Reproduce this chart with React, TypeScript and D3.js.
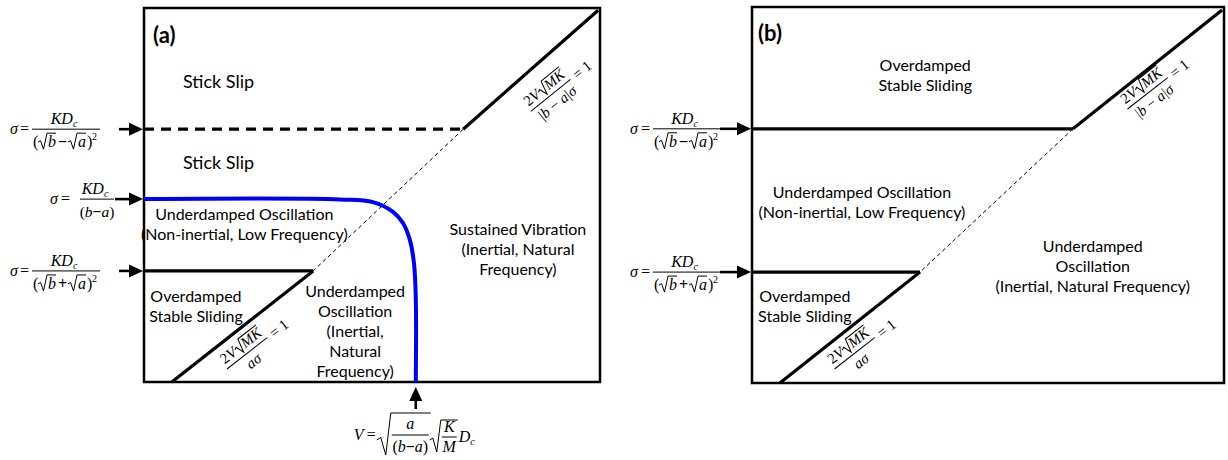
import React from "react";
import * as d3 from "d3";

// ---------- Data (schematic units: 0..100 in each panel's V–σ space) ----------
type P = [number, number];

// Panel (a) regime boundaries
const aStickSlipDashed: P[] = [[0, 67.6], [70, 67.6]];
const aUpperDiag: P[] = [[70, 67.6], [99.6, 99.4]];
const aThinDiag: P[] = [[70, 67.6], [37.1, 29.7]];
const aLowerStep: P[] = [[0, 29.7], [37.1, 29.7]];
const aLowerDiag: P[] = [[37.1, 29.7], [6.1, 0]];
const aBlueCurve: P[] = [
  [0, 48.9], [43.0, 48.8], [50.2, 48.1], [54.6, 45.5], [56.8, 42.5],
  [58.3, 38.0], [59.2, 31.8], [59.6, 22.7], [59.6, 0],
];
const aArrowLevels = [67.6, 48.9, 29.7];
const aBlueX = 59.6;

// Panel (b) regime boundaries
const bUpperStep: P[] = [[0, 67.6], [68, 67.6]];
const bUpperDiag: P[] = [[68, 67.6], [99.6, 99.2]];
const bThinDiag: P[] = [[68, 67.6], [35.6, 29.5]];
const bLowerStep: P[] = [[0, 29.5], [35.6, 29.5]];
const bLowerDiag: P[] = [[35.6, 29.5], [5.9, 0]];
const bArrowLevels = [67.6, 29.5];

// Region labels: first-line centre in panel units
const aStickLabels = [
  { lines: ["Stick Slip"], x: 8.55, y: 80.2, anchor: "start" },
  { lines: ["Stick Slip"], x: 8.55, y: 58.6, anchor: "start" },
];
const aLabels = [
  { lines: ["Underdamped Oscillation", "(Non-inertial, Low Frequency)"], x: 22.0, y: 44.7, anchor: "middle" },
  { lines: ["Sustained Vibration", "(Inertial, Natural", "Frequency)"], x: 82.0, y: 40.9, anchor: "middle" },
  { lines: ["Underdamped", "Oscillation", "(Inertial,", "Natural", "Frequency)"], x: 46.3, y: 24.1, anchor: "middle" },
  { lines: ["Overdamped", "Stable Sliding"], x: 11.4, y: 23.0, anchor: "middle" },
];
const bLabels = [
  { lines: ["Overdamped", "Stable Sliding"], x: 36.7, y: 84.5, anchor: "middle" },
  { lines: ["Underdamped Oscillation", "(Non-inertial, Low Frequency)"], x: 23.3, y: 50.8, anchor: "middle" },
  { lines: ["Underdamped", "Oscillation", "(Inertial, Natural Frequency)"], x: 72.2, y: 36.4, anchor: "middle" },
  { lines: ["Overdamped", "Stable Sliding"], x: 11.2, y: 22.9, anchor: "middle" },
];

// ---------- Layout ----------
const W = 1228, H = 460;
const xA = d3.scaleLinear().domain([0, 100]).range([144, 600]);
const yA = d3.scaleLinear().domain([0, 100]).range([382, 8]);
const xB = d3.scaleLinear().domain([0, 100]).range([752, 1224]);
const yB = d3.scaleLinear().domain([0, 100]).range([383, 7]);

const SANS = "Lato, 'Open Sans', sans-serif";
const MF = "'Liberation Serif', 'Times New Roman', serif";
const LINE_H = 20;

function lineGen(xs: d3.ScaleLinear<number, number>, ys: d3.ScaleLinear<number, number>, curve?: any) {
  const g = d3.line<P>().x((d) => xs(d[0])).y((d) => ys(d[1]));
  if (curve) g.curve(curve);
  return g;
}

function Arrow({ x1, y1, x2, y2 }: { x1: number; y1: number; x2: number; y2: number }) {
  const ang = Math.atan2(y2 - y1, x2 - x1);
  const L = 14, hw = 6.5;
  const bx = x2 - L * Math.cos(ang), by = y2 - L * Math.sin(ang);
  const px = -Math.sin(ang) * hw, py = Math.cos(ang) * hw;
  return (
    <g>
      <line x1={x1} y1={y1} x2={bx} y2={by} stroke="#000" strokeWidth={2.6} />
      <path d={`M${x2},${y2}L${bx + px},${by + py}L${bx - px},${by - py}Z`} fill="#000" />
    </g>
  );
}

function Rad({ x, yb, top, w }: { x: number; yb: number; top: number; w: number }) {
  return (
    <path
      d={`M${x},${yb - 7}L${x + 2.5},${yb - 8.5}L${x + 5.5},${yb}L${x + 9},${top}L${x + 9 + w},${top}`}
      fill="none"
      stroke="#000"
      strokeWidth={1}
    />
  );
}

const it = { fontFamily: MF, fontStyle: "italic" as const, fontSize: 16, fill: "#000" };
const rm = { fontFamily: MF, fontStyle: "normal" as const, fontSize: 16, fill: "#000" };

// σ = KDc / (√b ∓ √a)^2
function SigmaSqrt({ bx, by, sign, sx, ex, bw }: { bx: number; by: number; sign: string; sx: number; ex: number; bw: number }) {
  const db = by + 18;
  return (
    <g>
      <text x={bx + sx} y={by + 5} {...it}>σ</text>
      <text x={bx + ex} y={by + 5} {...rm}>=</text>
      <line x1={bx} y1={by} x2={bx + bw} y2={by} stroke="#000" strokeWidth={1} />
      <text x={bx + bw / 2 - 2} y={by - 5} textAnchor="middle" {...it}>
        KD<tspan fontSize={10} dy={3}>c</tspan>
      </text>
      <text x={bx + 1} y={db} {...rm}>(</text>
      <Rad x={bx + 6} yb={db + 2} top={by + 4} w={9} />
      <text x={bx + 16} y={db} {...it}>b</text>
      <text x={bx + 26} y={db} {...rm} fontWeight="bold">{sign}</text>
      <Rad x={bx + 36} yb={db + 2} top={by + 4} w={9} />
      <text x={bx + 46} y={db} {...it}>a</text>
      <text x={bx + 55} y={db} {...rm}>)</text>
      <text x={bx + 60} y={db - 7} {...rm} fontSize={10}>2</text>
    </g>
  );
}

// σ = KDc / (b − a)
function SigmaLin({ bx, by }: { bx: number; by: number }) {
  return (
    <g>
      <text x={bx - 30} y={by + 5} {...it}>σ</text>
      <text x={bx - 19} y={by + 5} {...rm}>=</text>
      <line x1={bx} y1={by} x2={bx + 34} y2={by} stroke="#000" strokeWidth={1} />
      <text x={bx + 15} y={by - 5} textAnchor="middle" {...it}>
        KD<tspan fontSize={10} dy={3}>c</tspan>
      </text>
      <text x={bx + 17} y={by + 18} textAnchor="middle" {...it} fontSize={15.5}>
        <tspan fontStyle="normal">(</tspan>b<tspan fontStyle="normal" fontWeight="bold">−</tspan>a<tspan fontStyle="normal">)</tspan>
      </text>
    </g>
  );
}

// 2V√MK / (denominator) = 1, rotated
function RotFrac({ cx, cy, angle, abs }: { cx: number; cy: number; angle: number; abs: boolean }) {
  const f = { ...it, fontSize: 15 };
  const r = { ...rm, fontSize: 15 };
  return (
    <g transform={`translate(${cx},${cy}) rotate(${angle})`}>
      <text x={-25} y={-5} {...r}>2</text>
      <text x={-17.5} y={-5} {...f}>V</text>
      <Rad x={-8} yb={-3} top={-17} w={23} />
      <text x={1} y={-5} {...f}>MK</text>
      <line x1={-26} y1={0} x2={25} y2={0} stroke="#000" strokeWidth={1} />
      {abs ? (
        <text x={0} y={15} textAnchor="middle" {...f}>
          <tspan fontStyle="normal">|</tspan>b<tspan fontStyle="normal"> − </tspan>a<tspan fontStyle="normal">|</tspan>σ
        </text>
      ) : (
        <text x={0} y={15} textAnchor="middle" {...f}>aσ</text>
      )}
      <text x={30} y={5} {...r}>= 1</text>
    </g>
  );
}

// V = √(a/(b−a)) √(K/M) Dc
function VFormula({ ox, oy }: { ox: number; oy: number }) {
  return (
    <g>
      <text x={ox - 62} y={oy + 5} {...it}>V</text>
      <text x={ox - 49} y={oy + 5} {...rm}>=</text>
      <path
        d={`M${ox - 39},${oy + 5}L${ox - 35},${oy + 2.5}L${ox - 30},${oy + 20}L${ox - 25},${oy - 22}L${ox + 15},${oy - 22}`}
        fill="none" stroke="#000" strokeWidth={1}
      />
      <line x1={ox - 24} y1={oy} x2={ox + 13} y2={oy} stroke="#000" strokeWidth={1} />
      <text x={ox - 5.5} y={oy - 6} textAnchor="middle" {...it}>a</text>
      <text x={ox - 5.5} y={oy + 17} textAnchor="middle" {...it}>
        <tspan fontStyle="normal">(</tspan>b<tspan fontStyle="normal" fontWeight="bold">−</tspan>a<tspan fontStyle="normal">)</tspan>
      </text>
      <path
        d={`M${ox + 14},${oy + 5}L${ox + 17},${oy + 3}L${ox + 21},${oy + 17}L${ox + 25},${oy - 15}L${ox + 42},${oy - 15}`}
        fill="none" stroke="#000" strokeWidth={1}
      />
      <line x1={ox + 26} y1={oy + 2} x2={ox + 41} y2={oy + 2} stroke="#000" strokeWidth={1} />
      <text x={ox + 33.5} y={oy - 3} textAnchor="middle" {...it}>K</text>
      <text x={ox + 33.5} y={oy + 17} textAnchor="middle" {...it}>M</text>
      <text x={ox + 43} y={oy + 7} {...it}>
        D<tspan fontSize={10} dy={3}>c</tspan>
      </text>
    </g>
  );
}

function Labels({ data, xs, ys, size }: { data: typeof aLabels; xs: any; ys: any; size: number }) {
  return (
    <g fontFamily={SANS} fontSize={size} fill="#000">
      {data.map((l, i) => (
        <text key={i} x={xs(l.x)} y={ys(l.y)} textAnchor={l.anchor as any}>
          {l.lines.map((s, j) => (
            <tspan key={j} x={xs(l.x)} dy={j === 0 ? "0.35em" : LINE_H}>{s}</tspan>
          ))}
        </text>
      ))}
    </g>
  );
}

export default function App() {
  const la = lineGen(xA, yA);
  const lb = lineGen(xB, yB);
  const blue = lineGen(xA, yA, d3.curveCatmullRom.alpha(0.5));
  const thick = { fill: "none", stroke: "#000", strokeWidth: 3.2 };
  const thin = { fill: "none", stroke: "#000", strokeWidth: 1, strokeDasharray: "4 3" };

  return (
    <svg width={W} height={H} style={{ display: "block", position: "absolute", left: 0, top: 0, background: "#fff" }}>
      {/* Panel (a) */}
      <rect x={xA(0)} y={yA(100)} width={xA(100) - xA(0)} height={yA(0) - yA(100)} fill="#fff" stroke="#000" strokeWidth={2.5} />
      <path d={la(aThinDiag)!} {...thin} />
      <path d={la(aStickSlipDashed)!} {...thick} strokeDasharray="10 7" />
      <path d={la(aUpperDiag)!} {...thick} />
      <path d={la(aLowerStep)!} {...thick} />
      <path d={la(aLowerDiag)!} {...thick} />
      <path d={blue(aBlueCurve)!} fill="none" stroke="#0000ff" strokeWidth={4} />
      <text x={153} y={35} dy="0.35em" fontFamily={SANS} fontWeight="bold" fontSize={22}>(a)</text>
      <Labels data={aStickLabels} xs={xA} ys={yA} size={18} />
      <Labels data={aLabels} xs={xA} ys={yA} size={16} />
      <RotFrac cx={551} cy={95} angle={-39} abs={true} />
      <RotFrac cx={247.5} cy={353} angle={-38} abs={false} />

      {aArrowLevels.map((lv, i) => (
        <Arrow key={i} x1={i === 1 ? xA(0) - 29 : xA(0) - 25} y1={yA(lv)} x2={xA(0) - 1} y2={yA(lv)} />
      ))}
      <SigmaSqrt bx={32} by={yA(aArrowLevels[0])} sign="−" sx={-22} ex={-12} bw={68} />
      <SigmaLin bx={80} by={yA(aArrowLevels[1])} />
      <SigmaSqrt bx={32} by={yA(aArrowLevels[2])} sign="+" sx={-22} ex={-12} bw={68} />

      <Arrow x1={xA(aBlueX)} y1={yA(0) + 27} x2={xA(aBlueX)} y2={yA(0) + 5} />
      <VFormula ox={xA(aBlueX)} oy={435} />

      {/* Panel (b) */}
      <rect x={xB(0)} y={yB(100)} width={xB(100) - xB(0)} height={yB(0) - yB(100)} fill="#fff" stroke="#000" strokeWidth={2.5} />
      <path d={lb(bThinDiag)!} {...thin} />
      <path d={lb(bUpperStep)!} {...thick} />
      <path d={lb(bUpperDiag)!} {...thick} />
      <path d={lb(bLowerStep)!} {...thick} />
      <path d={lb(bLowerDiag)!} {...thick} />
      <text x={758} y={33} dy="0.35em" fontFamily={SANS} fontWeight="bold" fontSize={22}>(b)</text>
      <Labels data={bLabels} xs={xB} ys={yB} size={16} />
      <RotFrac cx={1148} cy={93} angle={-38} abs={true} />
      <RotFrac cx={855} cy={353} angle={-38} abs={false} />

      {bArrowLevels.map((lv, i) => (
        <Arrow key={i} x1={xB(0) - 32} y1={yB(lv)} x2={xB(0) - 1} y2={yB(lv)} />
      ))}
      <SigmaSqrt bx={653} by={yB(bArrowLevels[0])} sign="−" sx={-23} ex={-12} bw={67} />
      <SigmaSqrt bx={653} by={yB(bArrowLevels[1])} sign="+" sx={-23} ex={-12} bw={67} />
    </svg>
  );
}
